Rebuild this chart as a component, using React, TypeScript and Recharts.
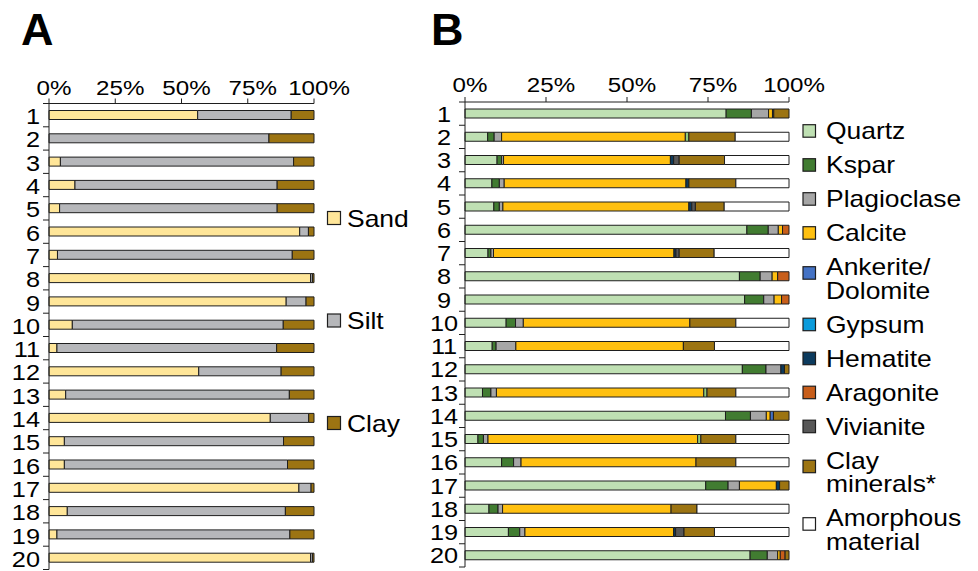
import { Bar, BarChart, XAxis, YAxis } from 'recharts';

const FONT = '"Liberation Sans", Arial, sans-serif';
const INK = '#1e1e1e';
const STRETCH = 1.15;

const rows = [1, 2, 3, 4, 5, 6, 7, 8, 9, 10, 11, 12, 13, 14, 15, 16, 17, 18, 19, 20];
const pctTicks = [0, 25, 50, 75, 100];

// panel A: grain size
const sand = [56.1, 0, 4.3, 9.8, 4.0, 94.6, 3.2, 98.7, 89.5, 8.8, 3.0, 56.5, 6.3, 83.5, 5.8, 5.8, 94.3, 6.9, 3.0, 98.7];
const silt = [35.3, 83.0, 88.0, 76.3, 82.1, 3.3, 88.6, 0.7, 7.5, 79.6, 82.9, 31.1, 84.4, 14.5, 82.7, 84.2, 4.6, 82.3, 87.9, 0.7];
const clay = [8.6, 17.0, 7.7, 13.9, 13.9, 2.1, 8.2, 0.6, 3.0, 11.6, 14.1, 12.4, 9.3, 2.0, 11.5, 10.0, 1.1, 10.8, 9.1, 0.6];

// panel B: mineralogy
const quartz = [80.6, 7.0, 9.9, 8.3, 8.9, 87.0, 7.1, 84.7, 86.3, 12.7, 8.4, 85.6, 5.4, 80.4, 4.0, 11.3, 74.3, 7.4, 13.4, 88.0];
const kspar = [7.8, 2.0, 1.4, 2.3, 1.7, 6.6, 0.9, 6.4, 5.9, 2.9, 1.2, 7.3, 2.6, 7.7, 1.7, 3.7, 6.9, 2.8, 3.5, 5.3];
const plagioclase = [5.3, 2.3, 0.6, 1.5, 1.1, 3.1, 0.8, 3.7, 3.2, 2.4, 6.1, 4.6, 1.7, 4.9, 1.4, 2.3, 3.5, 1.4, 1.6, 3.2];
const calcite = [1.2, 56.7, 51.5, 56.1, 57.4, 1.3, 55.7, 1.7, 2.3, 51.4, 51.7, 0, 64.0, 1.2, 64.7, 54.0, 11.4, 52.0, 45.9, 0.8];
const ankerite = [0, 0, 0, 0, 0, 0, 0, 0, 0, 0, 0, 0, 0, 1.0, 0, 0, 0, 0, 0, 0];
const gypsum = [0, 0, 0, 0, 0, 0, 0, 0, 0, 0, 0, 0, 0, 0, 0, 0, 0, 0, 0, 0];
const hematite = [0.4, 0, 1.0, 0.9, 0.9, 0, 0.6, 0, 0, 0, 0, 1.1, 0, 0, 0, 0, 1.0, 0, 0.6, 0];
const aragonite = [0, 0, 0, 0, 0, 2.0, 0, 3.5, 2.3, 0, 0, 0, 0, 0, 0, 0, 0, 0, 0, 1.5];
const vivianite = [0, 0, 1.7, 0, 1.1, 0, 1.0, 0, 0, 0, 0, 0, 0, 0, 0, 0, 0, 0, 2.6, 0];
const unlabelled = [0, 1.1, 0, 0, 0, 0, 0, 0, 0, 0, 0, 0, 1.0, 0, 1.0, 0, 0, 0, 0, 0];
const clayMinerals = [4.7, 14.3, 14.0, 14.5, 8.9, 0, 10.8, 0, 0, 14.2, 9.6, 1.4, 8.9, 4.8, 10.8, 12.3, 2.9, 8.0, 9.4, 1.2];
const amorphous = [0, 16.6, 19.9, 16.4, 20.0, 0, 23.1, 0, 0, 16.4, 23.0, 0, 16.4, 0, 16.4, 16.4, 0, 28.4, 23.0, 0];

const seriesA = [
  { key: 'sand', name: 'Sand', values: sand, color: '#ffe699' },
  { key: 'silt', name: 'Silt', values: silt, color: '#b6b7ba' },
  { key: 'clay', name: 'Clay', values: clay, color: '#9c7412' },
];

const seriesB = [
  { key: 'quartz', name: 'Quartz', values: quartz, color: '#bfe0b3' },
  { key: 'kspar', name: 'Kspar', values: kspar, color: '#417c31' },
  { key: 'plagioclase', name: 'Plagioclase', values: plagioclase, color: '#a6a6a6' },
  { key: 'calcite', name: 'Calcite', values: calcite, color: '#ffc010' },
  { key: 'ankerite', name: 'Ankerite/\nDolomite', values: ankerite, color: '#4472c4' },
  { key: 'gypsum', name: 'Gypsum', values: gypsum, color: '#0b9bdb' },
  { key: 'hematite', name: 'Hematite', values: hematite, color: '#0c3b5e' },
  { key: 'aragonite', name: 'Aragonite', values: aragonite, color: '#c85e1a' },
  { key: 'vivianite', name: 'Vivianite', values: vivianite, color: '#575757' },
  { key: 'unlabelled', name: '', values: unlabelled, color: '#92cc7c' },
  { key: 'clayMinerals', name: 'Clay\nminerals*', values: clayMinerals, color: '#9c7412' },
  { key: 'amorphous', name: 'Amorphous\nmaterial', values: amorphous, color: '#ffffff' },
];

const toTable = (series: typeof seriesA) =>
  rows.map((row, i) => {
    const entry: Record<string, number> = { row };
    series.forEach((s) => {
      entry[s.key] = s.values[i];
    });
    return entry;
  });

const dataA = toTable(seriesA);
const dataB = toTable(seriesB);

// the original's lettering is a slightly widened Arial
const WideText = ({ x, y, size, anchor = 'start', children }: any) => (
  <text
    transform={`translate(${x},${y}) scale(${STRETCH},1)`}
    textAnchor={anchor}
    fontSize={size}
    fontFamily={FONT}
    fill="#000"
  >
    {children}
  </text>
);

const PctTick = ({ x, baseline, payload }: any) => (
  <WideText x={x + 5} y={baseline} size={21} anchor="middle">
    {payload.value}%
  </WideText>
);

const RowTick = ({ y, payload, index, labelX, anchor, axisX, band, dy }: any) => (
  <g>
    <WideText x={labelX} y={y + dy} size={22} anchor={anchor}>
      {payload.value}
    </WideText>
    <line x1={axisX - 6} x2={axisX} y1={y + band / 2} y2={y + band / 2} stroke={INK} strokeWidth={1} />
    {index === 0 ? <line x1={axisX - 6} x2={axisX} y1={y - band / 2} y2={y - band / 2} stroke={INK} strokeWidth={1} /> : null}
  </g>
);

type PanelProps = {
  data: Record<string, number>[];
  series: typeof seriesA;
  left: number;
  width: number;
  plotLeft: number;
  plotRight: number;
  plotTop: number;
  plotBottom: number;
  pctBaseline: number;
  labelX: number;
  anchor: string;
  labelDy: number;
};

const Panel = ({ data, series, left, width, plotLeft, plotRight, plotTop, plotBottom, pctBaseline, labelX, anchor, labelDy }: PanelProps) => {
  const band = (plotBottom - plotTop) / rows.length;
  const axisX = plotLeft - left;
  return (
    <div style={{ position: 'absolute', left, top: 0 }}>
      <BarChart
        width={width}
        height={571}
        data={data}
        layout="vertical"
        margin={{ top: plotTop - 30, right: left + width - plotRight, bottom: 571 - plotBottom, left: 0 }}
        barCategoryGap={0}
      >
        <XAxis
          xAxisId="top"
          type="number"
          orientation="top"
          domain={[0, 100]}
          ticks={pctTicks}
          interval={0}
          height={30}
          axisLine={{ stroke: INK, strokeWidth: 1 }}
          tickLine={{ stroke: INK, strokeWidth: 1 }}
          tickSize={5}
          tick={(p: any) => <PctTick {...p} baseline={pctBaseline} />}
        />
        <XAxis
          xAxisId="bottom"
          type="number"
          orientation="bottom"
          domain={[0, 100]}
          height={0}
          tick={false}
          tickLine={false}
          axisLine={{ stroke: INK, strokeWidth: 1 }}
        />
        <YAxis
          yAxisId="left"
          type="category"
          dataKey="row"
          width={axisX}
          interval={0}
          tickLine={false}
          axisLine={{ stroke: INK, strokeWidth: 1 }}
          tick={(p: any) => (
            <RowTick {...p} labelX={labelX - left} anchor={anchor} axisX={axisX} band={band} dy={labelDy} />
          )}
        />
        <YAxis
          yAxisId="right"
          orientation="right"
          type="category"
          dataKey="row"
          width={0}
          tick={false}
          tickLine={false}
          axisLine={{ stroke: INK, strokeWidth: 1 }}
        />
        {series.map((s) => (
          <Bar
            key={s.key}
            xAxisId="top"
            yAxisId="left"
            dataKey={s.key}
            stackId="stack"
            fill={s.color}
            stroke={INK}
            strokeWidth={1}
            barSize={9}
            isAnimationActive={false}
          />
        ))}
      </BarChart>
    </div>
  );
};

const legendA = seriesA.map((s, i) => ({ ...s, y: 218 + i * 102.5 }));

const legendB = (() => {
  let y = 130.7;
  return seriesB
    .filter((s) => s.name)
    .map((s) => {
      const lines = s.name.split('\n');
      const item = { ...s, lines, y, sq: lines.length > 1 ? y + 6 : y };
      y += (lines.length - 1) * 23.5 + 34;
      return item;
    });
})();

const Overlay = () => (
  <svg width={978} height={571} style={{ position: 'absolute', left: 0, top: 0, pointerEvents: 'none' }}>
    <text x={21} y={45} fontSize={45} fontWeight="bold" fontFamily={FONT} fill="#000">A</text>
    <text x={431} y={45} fontSize={45} fontWeight="bold" fontFamily={FONT} fill="#000">B</text>
    {legendA.map((s) => (
      <g key={s.key}>
        <rect x={327.5} y={s.y - 6.5} width={13} height={13} fill={s.color} stroke={INK} strokeWidth={1.2} />
        <WideText x={347} y={s.y + 8.5} size={23}>{s.name}</WideText>
      </g>
    ))}
    {legendB.map((s) => (
      <g key={s.key}>
        <rect x={803} y={s.sq - 6} width={12.5} height={12.5} fill={s.color} stroke={INK} strokeWidth={1.2} />
        {s.lines.map((line, j) => (
          <WideText key={j} x={826} y={s.y + 8.5 + j * 23.5} size={23}>{line}</WideText>
        ))}
      </g>
    ))}
  </svg>
);

export default function App() {
  return (
    <div style={{ position: 'absolute', left: 0, top: 0, width: 978, height: 571, background: '#fff', fontFamily: FONT, overflow: 'hidden' }}>
      <style>{'.recharts-surface { overflow: visible; } .recharts-wrapper { overflow: visible; }'}</style>
      <Panel
        data={dataA}
        series={seriesA}
        left={0}
        width={330}
        plotLeft={49}
        plotRight={314}
        plotTop={103.5}
        plotBottom={569.5}
        pctBaseline={95}
        labelX={40}
        anchor="end"
        labelDy={9}
      />
      <Panel
        data={dataB}
        series={seriesB}
        left={420}
        width={380}
        plotLeft={465}
        plotRight={789}
        plotTop={102}
        plotBottom={567}
        pctBaseline={92}
        labelX={444}
        anchor="middle"
        labelDy={8}
      />
      <Overlay />
    </div>
  );
}
